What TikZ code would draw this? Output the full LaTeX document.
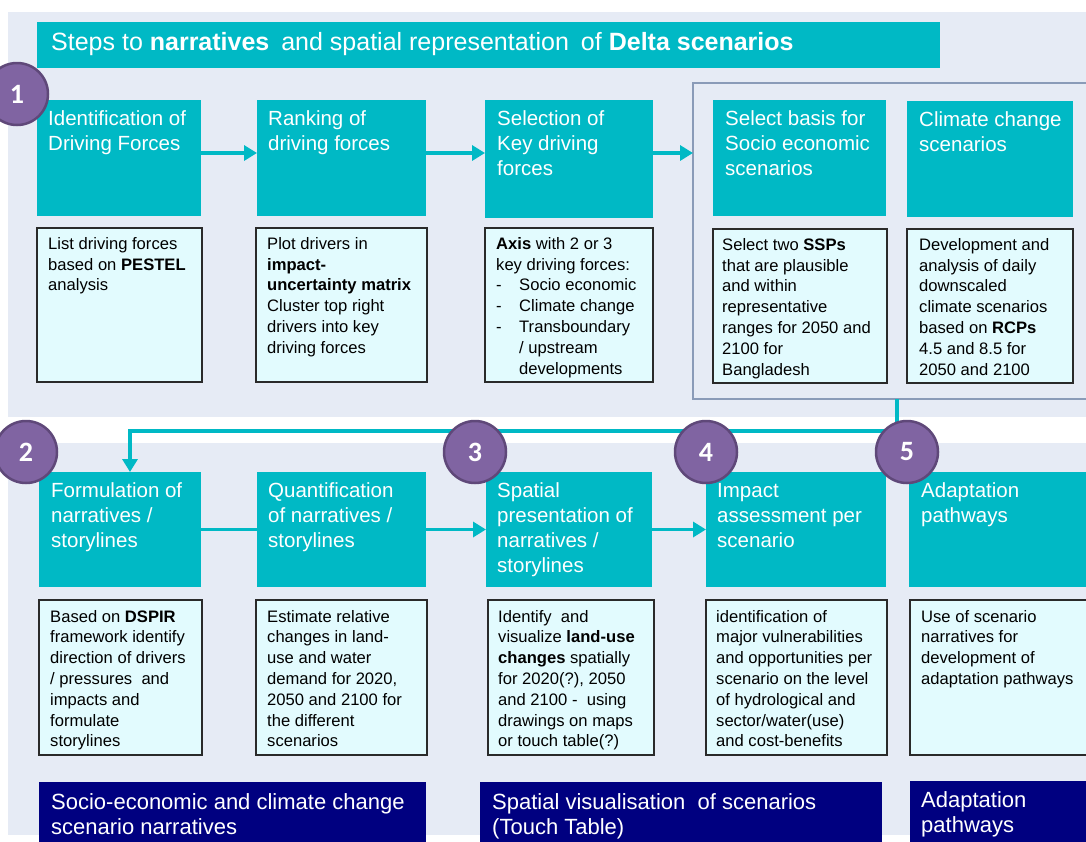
\documentclass[tikz,border=0pt]{standalone}
\usepackage{fontspec}
\setmainfont{Liberation Sans}
\newfontfamily\numfont{Carlito}
\usetikzlibrary{arrows.meta}
\definecolor{panelbg}{HTML}{E6EBF5}
\definecolor{cyanbox}{HTML}{00B9C5}
\definecolor{lightbox}{HTML}{E2FBFE}
\definecolor{navybox}{HTML}{000080}
\definecolor{purplec}{HTML}{8064A2}
\definecolor{purpled}{HTML}{5F4879}
\definecolor{framec}{HTML}{8A9BB8}
\definecolor{lborder}{HTML}{2A2A2A}
\begin{document}
\begin{tikzpicture}[x=1pt,y=-1pt,
  panel/.style={fill=panelbg,draw=none},
  cbox/.style={fill=cyanbox,draw=none,anchor=north west,inner sep=0pt,outer sep=0pt,minimum height=#1},
  cbox/.default=116pt,
  lbox/.style={fill=lightbox,draw=lborder,line width=1.1pt,anchor=north west,inner sep=0pt,outer sep=0pt,minimum height=#1},
  lbox/.default=154pt,
  nbox/.style={fill=navybox,draw=none,anchor=north west,inner sep=0pt,outer sep=0pt,minimum height=70pt},
  ctext/.style={anchor=north west,inner sep=0pt,align=left,text=white,font=\fontsize{20.5}{25}\selectfont},
  ltext/.style={anchor=north west,inner sep=0pt,align=left,text=black,font=\fontsize{16.6}{20.8}\selectfont},
  ntext/.style={anchor=north west,inner sep=0pt,align=left,text=white,font=\fontsize{22}{25}\selectfont},
  numc/.style={circle,fill=purplec,draw=purpled,line width=2.5pt,minimum size=62pt,inner sep=0pt,text=white,font=\numfont\fontsize{28}{30}\selectfont\bfseries},
  cline/.style={draw=cyanbox,line width=3.6pt},
  arr/.style={cline,-{Triangle[length=13pt,width=15pt]}}
]
\clip (0,0) rectangle (1086,841);
\fill[white] (0,0) rectangle (1086,841);
% panels
\fill[panel] (8,12) rectangle (1090,417);
\fill[panel] (8,443) rectangle (1090,835);
% title
\node[cbox=46pt,minimum width=903pt] (title) at (37,22) {};
\node[anchor=base west,inner sep=0pt,text=white,font=\fontsize{25}{28}\selectfont] (titletext) at (51,50.5)
  {Steps to \textbf{narratives}\hspace{5pt} and spatial representation\hspace{5pt} of \textbf{Delta scenarios}};
% frame
\node[draw=framec,line width=1.2pt,fill=none,anchor=north west,inner sep=0pt,outer sep=0pt,minimum width=400pt,minimum height=316pt] (fr) at (693,83) {};
% top cyan boxes
\node[cbox,minimum width=164pt] (c1) at (37,100) {};
\node[cbox,minimum width=169pt] (c2) at (257,100) {};
\node[cbox=118pt,minimum width=168pt] (c3) at (485,100) {};
\node[cbox,minimum width=173pt] (c4) at (713,100) {};
\node[cbox,minimum width=166pt] (c5) at (907,101) {};
\node[ctext] (c1t) at ([xshift=11pt,yshift=-7.5pt]c1.north west) {\strut Identification of\\Driving Forces};
\node[ctext] (c2t) at ([xshift=11pt,yshift=-7.5pt]c2.north west) {\strut Ranking of\\driving forces};
\node[ctext] (c3t) at ([xshift=12pt,yshift=-7.5pt]c3.north west) {\strut Selection of\\Key driving\\forces};
\node[ctext] (c4t) at ([xshift=12pt,yshift=-7.5pt]c4.north west) {\strut Select basis for\\Socio economic\\scenarios};
\node[ctext] (c5t) at ([xshift=12pt,yshift=-7.5pt]c5.north west) {\strut Climate change\\scenarios};
% top light boxes
\node[lbox,minimum width=165pt] (l1) at (37,228) {};
\node[lbox,minimum width=171pt] (l2) at (256,228) {};
\node[lbox,minimum width=168pt] (l3) at (485,228) {};
\node[lbox,minimum width=174pt] (l4) at (713,229) {};
\node[lbox,minimum width=166pt] (l5) at (907,229) {};
\node[ltext] (l1t) at ([xshift=11pt,yshift=-6.5pt]l1.north west) {\strut List driving forces\\based on \textbf{PESTEL}\\analysis};
\node[ltext] (l2t) at ([xshift=11pt,yshift=-6.5pt]l2.north west) {\strut Plot drivers in\\\textbf{impact-}\\\textbf{uncertainty matrix}\\Cluster top right\\drivers into key\\driving forces};
\node[ltext] (l3t) at ([xshift=11pt,yshift=-6.5pt]l3.north west) {\strut \textbf{Axis} with 2 or 3\\key driving forces:\\\makebox[23pt][l]{-}Socio economic\\\makebox[23pt][l]{-}Climate change\\\makebox[23pt][l]{-}Transboundary\\\hspace*{23pt}/ upstream\\\hspace*{23pt}developments};
\node[ltext] (l4t) at ([xshift=9pt,yshift=-6.5pt]l4.north west) {\strut Select two \textbf{SSPs}\\that are plausible\\and within\\representative\\ranges for 2050 and\\2100 for\\Bangladesh};
\node[ltext] (l5t) at ([xshift=12pt,yshift=-6.5pt]l5.north west) {\strut Development and\\analysis of daily\\downscaled\\climate scenarios\\based on \textbf{RCPs}\\4.5 and 8.5 for\\2050 and 2100};
% bottom cyan boxes
\node[cbox=115pt,minimum width=162pt] (d1) at (39,472) {};
\node[cbox=115pt,minimum width=169pt] (d2) at (257,472) {};
\node[cbox=115pt,minimum width=166pt] (d3) at (486,472) {};
\node[cbox=115pt,minimum width=180pt] (d4) at (706,472) {};
\node[cbox=115pt,minimum width=185pt] (d5) at (909,472) {};
\node[ctext] (d1t) at ([xshift=12pt,yshift=-7.5pt]d1.north west) {\strut Formulation of\\narratives /\\storylines};
\node[ctext] (d2t) at ([xshift=11pt,yshift=-7.5pt]d2.north west) {\strut Quantification\\of narratives /\\storylines};
\node[ctext] (d3t) at ([xshift=11pt,yshift=-7.5pt]d3.north west) {\strut Spatial\\presentation of\\narratives /\\storylines};
\node[ctext] (d4t) at ([xshift=11pt,yshift=-7.5pt]d4.north west) {\strut Impact\\assessment per\\scenario};
\node[ctext] (d5t) at ([xshift=12pt,yshift=-7.5pt]d5.north west) {\strut Adaptation\\pathways};
% bottom light boxes
\node[lbox=155pt,minimum width=163pt] (m1) at (39,600) {};
\node[lbox=155pt,minimum width=171pt] (m2) at (256,600) {};
\node[lbox=155pt,minimum width=166pt] (m3) at (488,600) {};
\node[lbox=155pt,minimum width=181pt] (m4) at (706,600) {};
\node[lbox=155pt,minimum width=185pt] (m5) at (910,600) {};
\node[ltext] (m1t) at ([xshift=11pt,yshift=-7.4pt]m1.north west) {\strut Based on \textbf{DSPIR}\\framework identify\\direction of drivers\\/ pressures\ \ and\\impacts and\\formulate\\storylines};
\node[ltext] (m2t) at ([xshift=11pt,yshift=-7.4pt]m2.north west) {\strut Estimate relative\\changes in land-\\use and water\\demand for 2020,\\2050 and 2100 for\\the different\\scenarios};
\node[ltext] (m3t) at ([xshift=10pt,yshift=-7.4pt]m3.north west) {\strut Identify\ \ and\\visualize \textbf{land-use}\\\textbf{changes} spatially\\for 2020(?), 2050\\and 2100 -\ \ using\\drawings on maps\\or touch table(?)};
\node[ltext] (m4t) at ([xshift=10pt,yshift=-7.4pt]m4.north west) {\strut identification of\\major vulnerabilities\\and opportunities per\\scenario on the level\\of hydrological and\\sector/water(use)\\and cost-benefits};
\node[ltext] (m5t) at ([xshift=11pt,yshift=-7.4pt]m5.north west) {\strut Use of scenario\\narratives for\\development of\\adaptation pathways};
% navy boxes
\node[nbox,minimum width=387pt] (n1) at (39,782) {};
\node[nbox,minimum width=402pt] (n2) at (480,782) {};
\node[nbox,minimum width=190pt] (n3) at (910,781) {};
\node[ntext] (n1t) at ([xshift=12pt,yshift=-10pt]n1.north west) {\strut Socio-economic and climate change\\scenario narratives};
\node[ntext] (n2t) at ([xshift=12pt,yshift=-10pt]n2.north west) {\strut Spatial visualisation\ \ of scenarios\\(Touch Table)};
\node[ntext] (n3t) at ([xshift=11pt,yshift=-9pt]n3.north west) {\strut Adaptation\\pathways};
% connectors top row
\coordinate (a1) at ([yshift=5pt]c1.east);
\coordinate (a2) at ([yshift=5pt]c2.east);
\coordinate (a3) at ([yshift=6pt]c3.east);
\draw[arr] (a1) -- (a1 -| c2.west);
\draw[arr] (a2) -- (a2 -| c3.west);
\draw[arr] (a3) -- (a3 -| fr.west);
% connector frame to bottom row
\coordinate (fb) at (897,399);
\draw[arr] (fb |- fr.south) -- ++(0,32) -| ([xshift=10pt]d1.north);
% connectors bottom row
\draw[cline] (d1.east) -- (d2.west);
\draw[arr] (d2.east) -- (d3.west);
\draw[arr] (d3.east) -- (d4.west);
% numbered circles
\node[numc] (k1) at (17,94) {1};
\node[numc] (k2) at (26,452) {2};
\node[numc] (k3) at (475,452) {3};
\node[numc] (k4) at (706,452) {4};
\node[numc] (k5) at (907,452) {5};
\end{tikzpicture}
\end{document}
